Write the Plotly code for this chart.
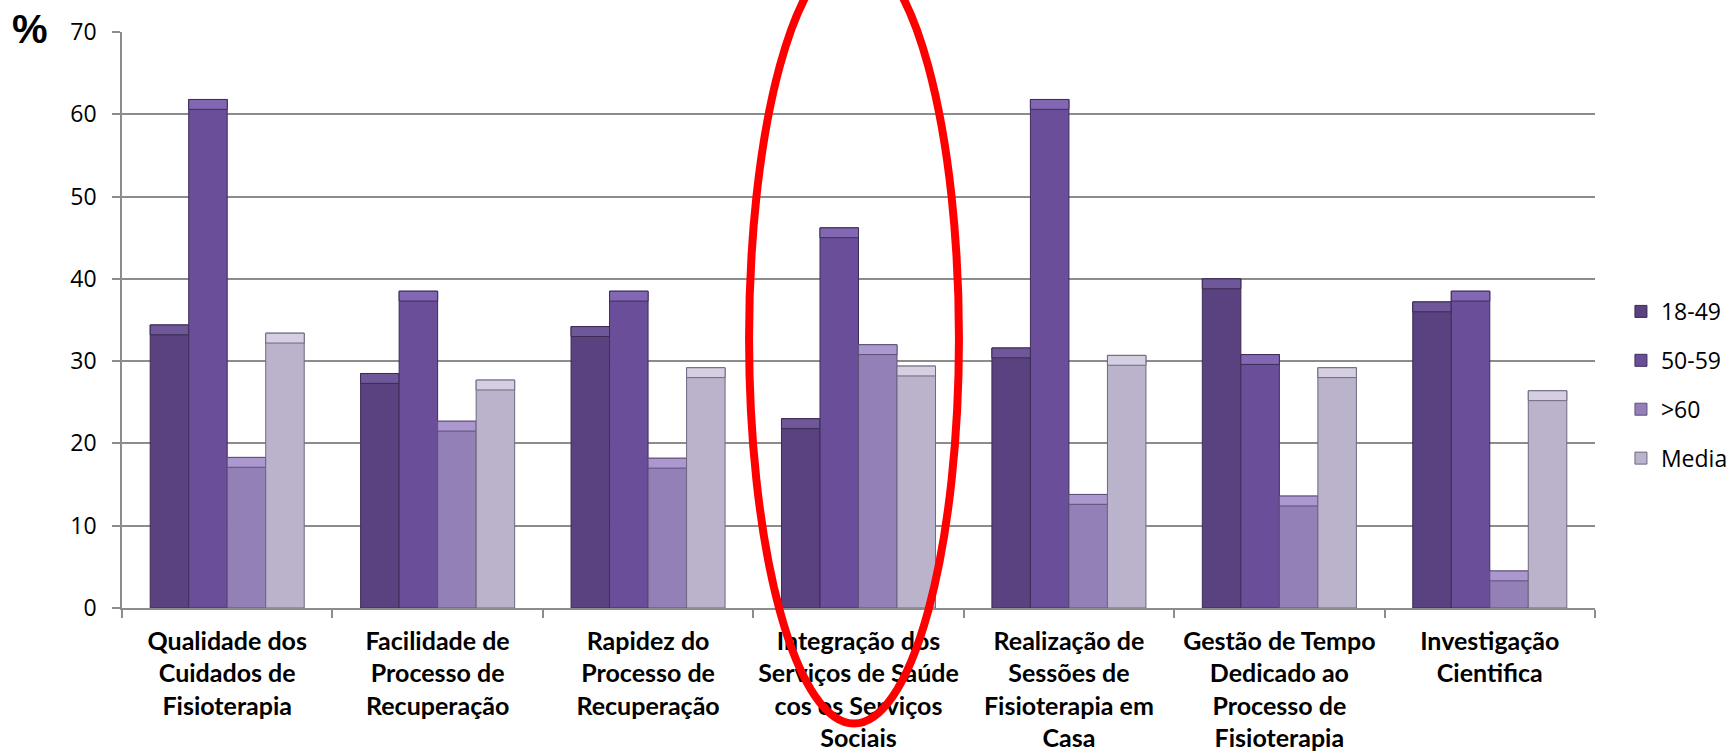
import plotly.graph_objects as go

# Category labels (x axis), wrapped over several lines
categories = [
    "Qualidade dos<br>Cuidados de<br>Fisioterapia",
    "Facilidade de<br>Processo de<br>Recuperação",
    "Rapidez do<br>Processo de<br>Recuperação",
    "Integração dos<br>Serviços de Saúde<br>cos os Serviços<br>Sociais",
    "Realização de<br>Sessões de<br>Fisioterapia em<br>Casa",
    "Gestão de Tempo<br>Dedicado ao<br>Processo de<br>Fisioterapia",
    "Investigação<br>Cientifica",
]

# Percentages per age group
age_18_49 = [34.4, 28.5, 34.2, 23.0, 31.6, 40.0, 37.2]
age_50_59 = [61.8, 38.5, 38.5, 46.2, 61.8, 30.8, 38.5]
age_60_plus = [18.3, 22.7, 18.2, 32.0, 13.8, 13.6, 4.5]
media = [33.4, 27.7, 29.2, 29.4, 30.7, 29.2, 26.4]

series_names = ["18-49", "50-59", ">60", "Media"]
y_ticks = [0, 10, 20, 30, 40, 50, 60, 70]

fills = ["#5a4280", "#6b4e99", "#9380b6", "#bbb2cb"]
bevels = ["#6f589a", "#8267b3", "#ab98cf", "#d6cfe2"]
edges = ["#3a2b52", "#3e2d5a", "#5f5078", "#6e6880"]
BEVEL = 1.2  # height of the lighter top facet, in axis units

fig = go.Figure()
series = [age_18_49, age_50_59, age_60_plus, media]
for i, (name, vals) in enumerate(zip(series_names, series)):
    fig.add_trace(go.Bar(
        x=categories, y=vals, name=name, offsetgroup=str(i),
        legendgroup=name,
        marker=dict(color=fills[i], line=dict(color=edges[i], width=1)),
        hoverinfo="y+name",
    ))
    # lighter bevel on top of each bar
    fig.add_trace(go.Bar(
        x=categories, y=[BEVEL] * len(vals),
        base=[v - BEVEL for v in vals],
        offsetgroup=str(i), showlegend=False, legendgroup=name,
        marker=dict(color=bevels[i], line=dict(color=edges[i], width=1)),
        hoverinfo="skip",
    ))

grid = "#8c8c8c"
fig.update_layout(
    width=1729, height=751,
    margin=dict(l=122, r=134, t=32, b=143, autoexpand=False),
    paper_bgcolor="white", plot_bgcolor="white",
    barmode="group", bargap=0.268, bargroupgap=0,
    font=dict(family="Open Sans", color="#000000"),
    showlegend=True,
    legend=dict(
        xref="container", yref="container",
        x=0.9375, xanchor="left", y=0.6139, yanchor="top",
        font=dict(family="Open Sans", size=23, color="#000000"),
        tracegroupgap=16, itemwidth=30,
        bgcolor="rgba(0,0,0,0)",
    ),
    xaxis=dict(
        showline=True, linecolor=grid, linewidth=1.5,
        ticks="outside", tickson="boundaries", ticklen=8,
        tickcolor=grid, tickwidth=1.5,
        tickfont=dict(family="Lato", size=25, color="#000000", weight="bold"),
        showgrid=False, automargin=False, tickangle=0,
        ticklabelstandoff=10,
    ),
    yaxis=dict(
        range=[0, 70], tickvals=y_ticks,
        showgrid=True, gridcolor=grid, gridwidth=1.5,
        showline=True, linecolor=grid, linewidth=1.5,
        ticks="outside", ticklen=8, tickcolor=grid, tickwidth=1.5,
        tickfont=dict(family="Open Sans", size=23, color="#000000"),
        zeroline=False, automargin=False, ticklabelstandoff=11,
    ),
    annotations=[dict(
        text="<b>%</b>", xref="paper", yref="paper",
        x=-0.0625, y=1.005, xanchor="center", yanchor="middle",
        showarrow=False,
        font=dict(family="Liberation Sans", size=40, color="#000000"),
    )],
    shapes=[dict(
        type="circle", xref="paper", yref="paper",
        x0=0.4257, x1=0.5682, y0=-0.2006, y1=1.1367,
        line=dict(color="#ff0000", width=8), layer="above",
    )],
)

fig.write_html("out.html")
